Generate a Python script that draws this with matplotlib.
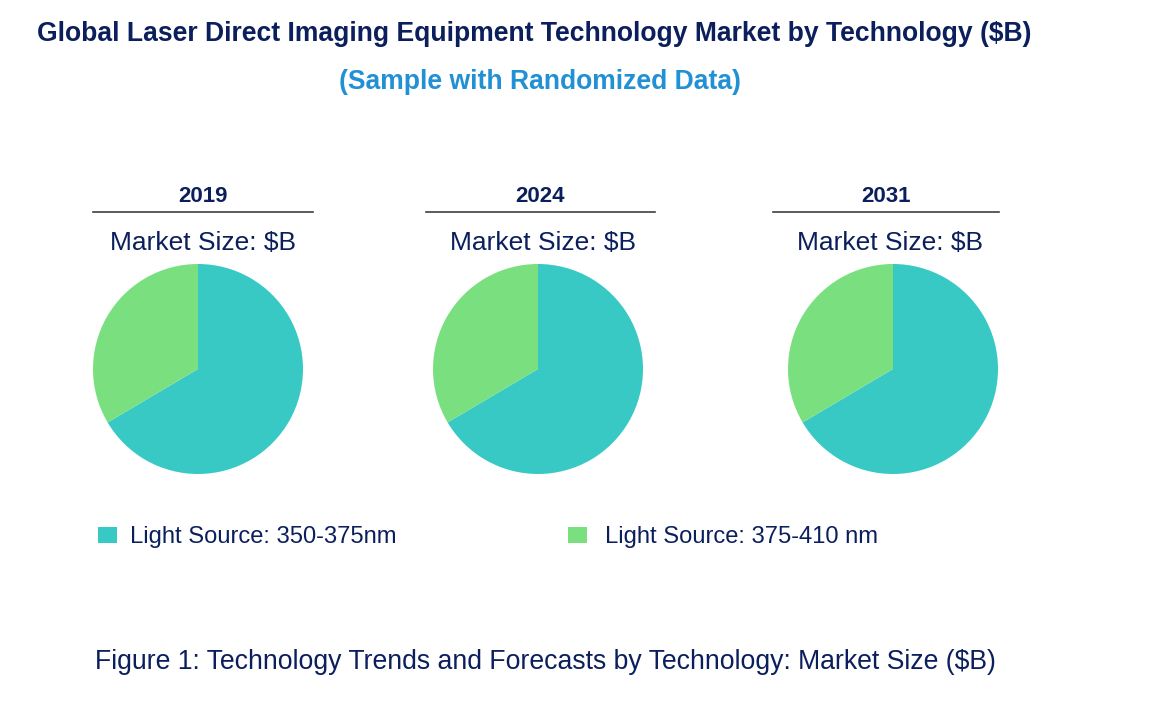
import matplotlib
matplotlib.use("Agg")
import matplotlib.pyplot as plt
from matplotlib.patches import Rectangle
from matplotlib.lines import Line2D

plt.rcParams['font.family'] = ['Liberation Sans', 'DejaVu Sans']

# data
years = ['2019', '2024', '2031']
technologies = ['Light Source: 350-375nm', 'Light Source: 375-410 nm']
share_350_375 = [66.5, 66.5, 66.5]
share_375_410 = [33.5, 33.5, 33.5]
colors = ['#38c9c5', '#7ae07f']

navy = '#0b1f5c'
W, H = 1170, 725

fig = plt.figure(figsize=(W / 100, H / 100), dpi=100)


def fx(x):
    return x / W


def fy(y):
    return 1 - y / H


# titulos
fig.text(fx(37), fy(34), 'Global Laser Direct Imaging Equipment Technology Market by Technology ($B)',
         fontsize=19.1, fontweight='bold', color=navy, ha='left', va='center')
fig.text(fx(540), fy(82), '(Sample with Randomized Data)',
         fontsize=19.1, fontweight='bold', color='#2190d4', ha='center', va='center')

# pies
centers = [198, 538, 893]
label_x = [203, 540, 886]
line_spans = [(93, 313), (426, 655), (773, 999)]
size_x = [203, 543, 890]
r = 105

for i, yr in enumerate(years):
    cx = centers[i]
    ax = fig.add_axes([fx(cx - r), fy(369 + r), 2 * r / W, 2 * r / H])
    ax.pie([share_350_375[i], share_375_410[i]], colors=colors, startangle=90,
           counterclock=False, radius=1.0, wedgeprops=dict(linewidth=0))
    ax.set_xlim(-1, 1)
    ax.set_ylim(-1, 1)
    ax.set_aspect('equal')
    ax.axis('off')

    fig.text(fx(label_x[i]), fy(197), yr, fontsize=16, fontweight='bold',
             color=navy, ha='center', va='center')
    x0, x1 = line_spans[i]
    fig.add_artist(Line2D([fx(x0), fx(x1)], [fy(212), fy(212)], color='#404040', lw=1.2))
    fig.text(fx(size_x[i]), fy(243), 'Market Size: $B', fontsize=19,
             color=navy, ha='center', va='center')

# legenda
leg_sq = [98, 568]
leg_txt = [130, 605]
for i, tech in enumerate(technologies):
    fig.add_artist(Rectangle((fx(leg_sq[i]), fy(543)), 19 / W, 16 / H,
                             transform=fig.transFigure, color=colors[i], lw=0))
    fig.text(fx(leg_txt[i]), fy(537), tech, fontsize=17.1, color=navy,
             ha='left', va='center')

# legenda da figura
fig.text(fx(95), fy(662), 'Figure 1: Technology Trends and Forecasts by Technology: Market Size ($B)',
         fontsize=19.2, color=navy, ha='left', va='center')

fig.savefig('out.png', dpi=100)
